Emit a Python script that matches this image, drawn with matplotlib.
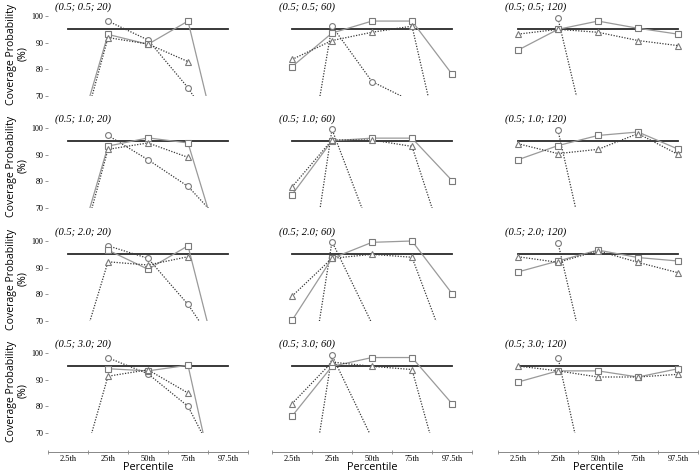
import numpy as np
import matplotlib
matplotlib.use("Agg")
import matplotlib.pyplot as plt
from matplotlib.transforms import Bbox, TransformedBbox

nan = np.nan
percentiles = ["2.5th", "25th", "50th", "75th", "97.5th"]
titles = [["(0.5; 0.5; 20)", "(0.5; 0.5; 60)", "(0.5; 0.5; 120)"],
          ["(0.5; 1.0; 20)", "(0.5; 1.0; 60)", "(0.5; 1.0; 120)"],
          ["(0.5; 2.0; 20)", "(0.5; 2.0; 60)", "(0.5; 2.0; 120)"],
          ["(0.5; 3.0; 20)", "(0.5; 3.0; 60)", "(0.5; 3.0; 120)"]]
nominal = 95

circle = [
    [[nan, 98.1, 91.0, 73.1, 50], [9, 96.2, 75.4, 68, nan], [nan, 99.1, 36, nan, nan]],
    [[nan, 97.2, 88.1, 78.1, 62], [0, 99.5, 60, nan, nan], [nan, 99.1, 33, nan, nan]],
    [[nan, 98.2, 93.5, 76.2, 54], [5, 99.8, 69, nan, nan], [nan, 99.3, 35, nan, nan]],
    [[nan, 98.2, 92.2, 80.0, 51], [5, 99.1, 68, nan, nan], [nan, 98.3, 31, nan, nan]],
]
square = [
    [[42, 93.1, 89.4, 98.1, 36], [81.0, 93.6, 98.1, 98.1, 78.2], [87.2, 95.0, 98.1, 95.4, 93.2]],
    [[42, 93.2, 96.3, 94.4, 45], [75.0, 95.2, 96.2, 96.2, 80.3], [88.1, 93.4, 97.2, 98.5, 92.1]],
    [[nan, 96.6, 89.4, 98.2, 39], [70.2, 93.5, 99.5, 100.0, 80.3], [88.4, 92.5, 96.6, 93.8, 92.5]],
    [[nan, 94.1, 93.3, 95.4, 28], [76.3, 95.0, 98.3, 98.3, 81.0], [89.1, 93.3, 93.3, 91.0, 94.1]],
]
triangle = [
    [[37, 91.9, 89.5, 82.9, nan], [83.7, 90.8, 93.9, 96.2, 31], [93.2, 95.0, 93.9, 90.8, 88.9]],
    [[37, 92.0, 94.4, 89.0, nan], [77.9, 95.5, 95.5, 93.1, 47], [94.1, 90.4, 92.0, 97.9, 90.1]],
    [[43, 92.2, 91.0, 94.1, nan], [79.3, 93.5, 95.0, 93.9, 54], [94.1, 92.0, 96.3, 92.0, 88.1]],
    [[39, 91.3, 93.7, 85.0, nan], [81.0, 96.6, 95.0, 93.8, 40], [95.1, 93.3, 91.0, 91.0, 92.0]],
]

W, H = 699, 475
fig = plt.figure(figsize=(W / 100, H / 100), dpi=100)

col_left = [48, 272, 498]
col_w = 200
row_top = [16, 128, 241, 353]
row_h = 80

serif = "Liberation Serif"
sans = "Open Sans"

series = [
    (circle, "o", (0, (1, 1.2)), "#3a3a3a"),
    (square, "s", "-", "#9a9a9a"),
    (triangle, "^", (0, (1, 1.2)), "#3a3a3a"),
]

x = np.arange(len(percentiles))
for r in range(4):
    for c in range(3):
        ax = fig.add_axes([col_left[c] / W, 1 - (row_top[r] + row_h) / H, col_w / W, row_h / H])
        ax.set_xlim(-0.5, 4.5)
        ax.set_ylim(70, 100)
        ax.patch.set_alpha(0)
        for s in ax.spines.values():
            s.set_visible(False)
        clip = TransformedBbox(Bbox([[-0.5, 70], [4.5, 115]]), ax.transData)
        ax.plot([0, 4], [nominal, nominal], color="#2a2a2a", lw=1.3, zorder=1)
        for data, mk, ls, lc in series:
            vals = np.array(data[r][c], dtype=float)
            ln, = ax.plot(x, vals, linestyle=ls, color=lc, lw=0.9, zorder=2)
            ln.set_clip_box(clip)
            mvals = np.where(vals >= 70, vals, np.nan)
            m, = ax.plot(x, mvals, linestyle="none", marker=mk, ms=4.2,
                         mfc="white", mec="#7a7a7a", mew=0.8, zorder=3)
            m.set_clip_on(False)
        ax.text(7 / col_w, 1 + 9 / row_h, titles[r][c],
                transform=ax.transAxes, ha="left", va="center",
                fontsize=7.6, fontstyle="italic", family=serif)
        if c == 0:
            ax.set_yticks([70, 80, 90, 100])
            ax.set_yticklabels(["70", "80", "90", "100"], family=serif, fontsize=5.8)
            ax.tick_params(axis="y", length=2, width=0.6, color="#888888", pad=1.5)
            fig.text(17 / W, 1 - (row_top[r] + row_h / 2 - 2) / H,
                     "Coverage Probability\n(%)", rotation=90, ha="center", va="center",
                     multialignment="center", fontsize=7.6, family=sans, linespacing=1.1)
        else:
            ax.set_yticks([])
        if r == 3:
            ax.spines["bottom"].set_visible(True)
            ax.spines["bottom"].set_position(("outward", 14))
            ax.spines["bottom"].set_color("#888888")
            ax.spines["bottom"].set_linewidth(0.7)
            ax.set_xticks(np.arange(-0.5, 5, 1.0))
            ax.set_xticklabels([])
            ax.set_xticks(x, minor=True)
            ax.set_xticklabels(percentiles, minor=True, family=serif, fontsize=6)
            ax.tick_params(axis="x", which="major", length=3, width=0.6, color="#888888", direction="inout")
            ax.tick_params(axis="x", which="minor", length=0, pad=2)
            fig.text((col_left[c] + col_w / 2) / W, 1 - 468 / H, "Percentile",
                     ha="center", va="center", family=sans, fontsize=7.8)
        else:
            ax.set_xticks([])

fig.savefig("out.png", dpi=100)
